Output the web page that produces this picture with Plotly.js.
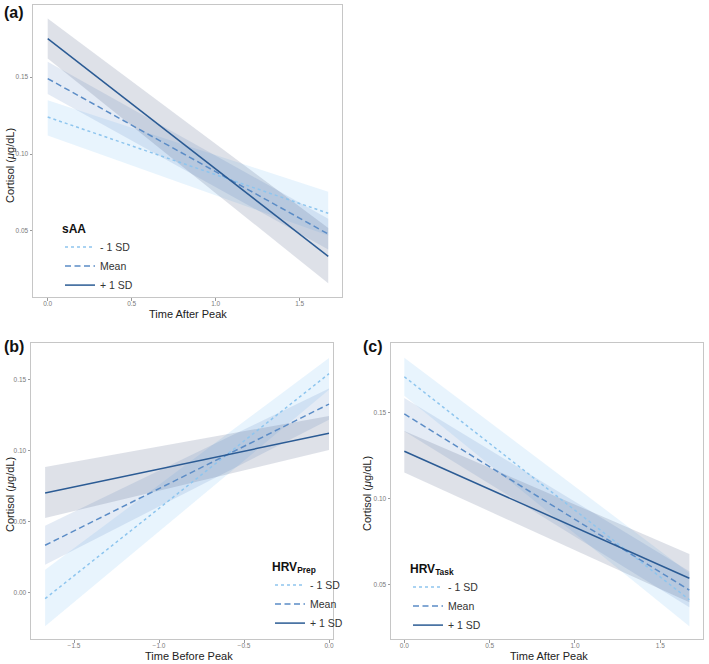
<!DOCTYPE html>
<html>
<head>
<meta charset="utf-8">
<script src="https://cdn.plot.ly/plotly-3.0.1.min.js"></script>
<style>html,body{margin:0;padding:0;background:#fff;}#chart{width:709px;height:664px;}</style>
</head>
<body>
<div id="chart"></div>
<script>
// ---------- data ----------
const seriesNames = ["- 1 SD", "Mean", "+ 1 SD"];

// Panel (a): sAA, Time After Peak
const aX = [0, 1.67];
const aLow = [0.124, 0.0615];
const aLowLo = [0.112, 0.047];
const aLowHi = [0.135, 0.0755];
const aMean = [0.149, 0.048];
const aMeanLo = [0.139, 0.038];
const aMeanHi = [0.160, 0.058];
const aHigh = [0.175, 0.0335];
const aHighLo = [0.162, 0.016];
const aHighHi = [0.188, 0.052];

// Panel (b): HRV Prep, Time Before Peak
const bX = [-1.67, 0];
const bLow = [-0.004, 0.1544];
const bLowLo = [-0.0235, 0.143];
const bLowHi = [0.0164, 0.1654];
const bMean = [0.0336, 0.133];
const bMeanLo = [0.0199, 0.122];
const bMeanHi = [0.0474, 0.144];
const bHigh = [0.0704, 0.1124];
const bHighLo = [0.0528, 0.1007];
const bHighHi = [0.0887, 0.1246];

// Panel (c): HRV Task, Time After Peak
const cX = [0, 1.67];
const cLow = [0.171, 0.0414];
const cLowLo = [0.160, 0.026];
const cLowHi = [0.182, 0.057];
const cMean = [0.1494, 0.047];
const cMeanLo = [0.1393, 0.037];
const cMeanHi = [0.1587, 0.058];
const cHigh = [0.1277, 0.0539];
const cHighLo = [0.1153, 0.040];
const cHighHi = [0.1395, 0.068];

const xTicksAfter = [0, 0.5, 1.0, 1.5];
const xTicksBefore = [-1.5, -1.0, -0.5, 0.0];
const yTicksA = [0.05, 0.10, 0.15];
const yTicksB = [0.00, 0.05, 0.10, 0.15];
const yTicksC = [0.05, 0.10, 0.15];

// ---------- styles ----------
const lineColors = ["#8ec5ee", "#5b8cc6", "#2b5b94"];
const lineDash = ["3px,3px", "6px,3.5px", "solid"];
const fillColors = ["rgba(150,205,245,0.22)", "rgba(90,130,190,0.16)", "rgba(60,80,120,0.17)"];

function ribbon(x, lo, hi, k, xa, ya) {
  return {
    x: x.concat(x.slice().reverse()),
    y: hi.concat(lo.slice().reverse()),
    xaxis: xa, yaxis: ya,
    type: "scatter", mode: "lines", fill: "toself",
    fillcolor: fillColors[k], line: {width: 0, color: "rgba(0,0,0,0)"},
    hoverinfo: "skip", showlegend: false
  };
}
function line(x, y, k, xa, ya, leg) {
  return {
    x: x, y: y, xaxis: xa, yaxis: ya, type: "scatter", mode: "lines",
    name: seriesNames[k], legend: leg, showlegend: true,
    line: {color: lineColors[k], width: 1.5, dash: lineDash[k]}
  };
}

const panels = [
  {x: aX, s: [[aLow, aLowLo, aLowHi], [aMean, aMeanLo, aMeanHi], [aHigh, aHighLo, aHighHi]], xa: "x", ya: "y", leg: "legend"},
  {x: bX, s: [[bLow, bLowLo, bLowHi], [bMean, bMeanLo, bMeanHi], [bHigh, bHighLo, bHighHi]], xa: "x2", ya: "y2", leg: "legend2"},
  {x: cX, s: [[cLow, cLowLo, cLowHi], [cMean, cMeanLo, cMeanHi], [cHigh, cHighLo, cHighHi]], xa: "x3", ya: "y3", leg: "legend3"}
];
const traces = [];
panels.forEach(p => {
  p.s.forEach((s, k) => traces.push(ribbon(p.x, s[1], s[2], k, p.xa, p.ya)));
  p.s.forEach((s, k) => traces.push(line(p.x, s[0], k, p.xa, p.ya, p.leg)));
});

const W = 709, H = 664;
const fx = px => px / W;
const fy = py => 1 - py / H;

const FONT = "Liberation Sans, Arial, Helvetica, sans-serif";
function xax(dom, range, ticks, anchor) {
  return {domain: dom, range: range, anchor: anchor, tickvals: ticks, tickformat: ".1f",
    showline: true, mirror: true, linecolor: "#c6c6c6", linewidth: 1,
    showgrid: false, zeroline: false, ticks: "outside", ticklen: 2.5, tickcolor: "#9a9a9a", tickwidth: 1,
    ticklabelstandoff: -2,
    tickfont: {size: 6.5, color: "#7a7a7a", family: FONT}, fixedrange: true};
}
function yax(dom, range, ticks, anchor) {
  return {domain: dom, range: range, anchor: anchor, tickvals: ticks, tickformat: ".2f",
    showline: true, mirror: true, linecolor: "#c6c6c6", linewidth: 1,
    showgrid: false, zeroline: false, ticks: "outside", ticklen: 2.5, tickcolor: "#9a9a9a", tickwidth: 1,
    tickfont: {size: 6.5, color: "#7a7a7a", family: FONT}, fixedrange: true};
}
function leg(x, y, title) {
  return {x: x, y: y, xanchor: "left", yanchor: "top", bgcolor: "rgba(0,0,0,0)",
    title: {text: title, font: {size: 12, color: "#111", family: FONT}},
    font: {size: 10.5, color: "#333", family: FONT}, itemwidth: 30, tracegroupgap: 0};
}

const layout = {
  width: W, height: H, margin: {l: 0, r: 0, t: 0, b: 0},
  paper_bgcolor: "#fff", plot_bgcolor: "#fff",
  font: {family: FONT},
  xaxis: xax([fx(33), fx(342)], [-0.0875, 1.752], xTicksAfter, "y"),
  yaxis: yax([fy(297), fy(5)], [0.0071, 0.1968], yTicksA, "x"),
  xaxis2: xax([fx(31), fx(333)], [-1.753, 0.0235], xTicksBefore, "y2"),
  yaxis2: yax([fy(639), fy(343)], [-0.0324, 0.176], yTicksB, "x2"),
  xaxis3: xax([fx(391), fx(703)], [-0.078, 1.75], xTicksAfter, "y3"),
  yaxis3: yax([fy(639), fy(343)], [0.0186, 0.1906], yTicksC, "x3"),
  legend: leg(fx(60), fy(217), "<b>sAA</b>"),
  legend2: leg(fx(270), fy(555), "<b>HRV<sub>Prep</sub></b>"),
  legend3: leg(fx(408), fy(557), "<b>HRV<sub>Task</sub></b>"),
  annotations: [
    {text: "<b>(a)</b>", x: fx(2), y: fy(12), xref: "paper", yref: "paper", xanchor: "left", yanchor: "middle", showarrow: false, font: {size: 16, color: "#111", family: FONT}},
    {text: "<b>(b)</b>", x: fx(2), y: fy(347), xref: "paper", yref: "paper", xanchor: "left", yanchor: "middle", showarrow: false, font: {size: 16, color: "#111", family: FONT}},
    {text: "<b>(c)</b>", x: fx(361), y: fy(347), xref: "paper", yref: "paper", xanchor: "left", yanchor: "middle", showarrow: false, font: {size: 16, color: "#111", family: FONT}},
    {text: "Time After Peak", x: fx(188), y: fy(314), xref: "paper", yref: "paper", xanchor: "center", yanchor: "middle", showarrow: false, font: {size: 11, color: "#222", family: FONT}},
    {text: "Time Before Peak", x: fx(189), y: fy(656), xref: "paper", yref: "paper", xanchor: "center", yanchor: "middle", showarrow: false, font: {size: 11, color: "#222", family: FONT}},
    {text: "Time After Peak", x: fx(549), y: fy(656), xref: "paper", yref: "paper", xanchor: "center", yanchor: "middle", showarrow: false, font: {size: 11, color: "#222", family: FONT}},
    {text: "Cortisol (<i>μ</i>g/dL)", x: fx(10), y: fy(166), xref: "paper", yref: "paper", xanchor: "center", yanchor: "middle", textangle: -90, showarrow: false, font: {size: 11, color: "#222", family: FONT}},
    {text: "Cortisol (<i>μ</i>g/dL)", x: fx(10), y: fy(495), xref: "paper", yref: "paper", xanchor: "center", yanchor: "middle", textangle: -90, showarrow: false, font: {size: 11, color: "#222", family: FONT}},
    {text: "Cortisol (<i>μ</i>g/dL)", x: fx(367), y: fy(494), xref: "paper", yref: "paper", xanchor: "center", yanchor: "middle", textangle: -90, showarrow: false, font: {size: 11, color: "#222", family: FONT}}
  ]
};

Plotly.newPlot("chart", traces, layout, {displayModeBar: false, staticPlot: true});
</script>
</body>
</html>
